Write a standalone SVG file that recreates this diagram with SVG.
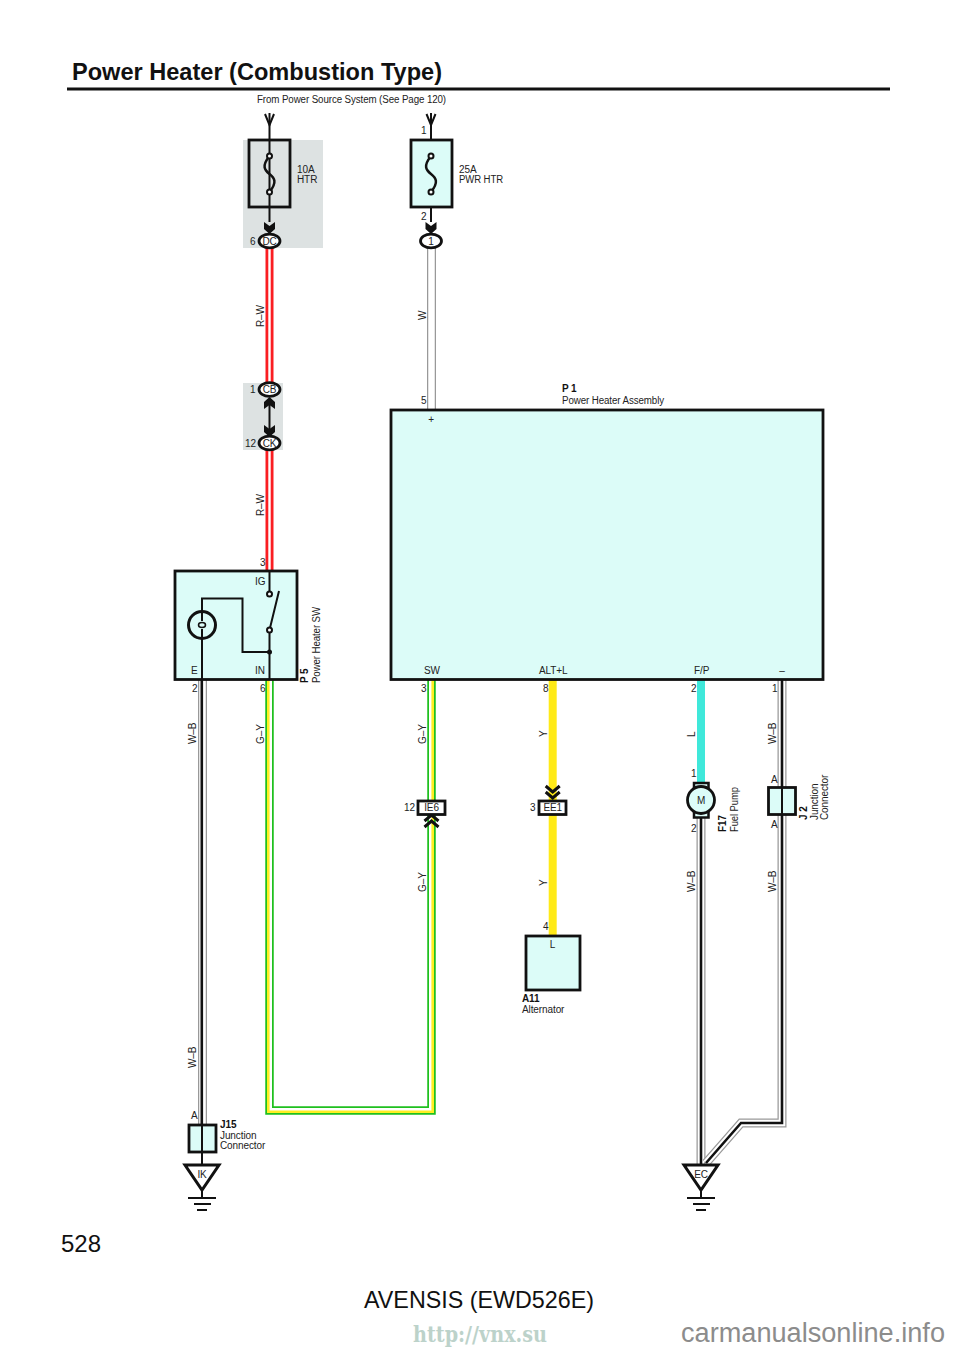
<svg xmlns="http://www.w3.org/2000/svg" width="960" height="1349" viewBox="0 0 960 1349">
<style>
text{font-family:"Liberation Sans",Arial,sans-serif;font-size:10px;fill:#222;letter-spacing:-0.1px}
.b{font-weight:bold;fill:#111}
.m{text-anchor:middle}
.s{fill:none;stroke:#111;stroke-width:2}
.box{fill:#dcfcf8;stroke:#111;stroke-width:2.800}
.nf{fill:none;stroke:#111;stroke-width:2.800}
.wb0{fill:none;stroke:#999;stroke-width:9}
.wb1{fill:none;stroke:#fff;stroke-width:6.500}
.wb2{fill:none;stroke:#111;stroke-width:2.600}
.r0{fill:none;stroke:#fa1e22;stroke-width:8}
.r1{fill:none;stroke:#fff;stroke-width:2.400}
.g0{fill:none;stroke:#1fc01f;stroke-width:8.500}
.g1{fill:none;stroke:#fff;stroke-width:5}
.g2{fill:none;stroke:#ffee22;stroke-width:2.600}
.y0{fill:none;stroke:#ffea17;stroke-width:8}
.l0{fill:none;stroke:#3fe8da;stroke-width:8}
.ov{fill:#fff;stroke:#111;stroke-width:2.800}
.dot{fill:#fff;stroke:#111;stroke-width:2}
</style>
<defs>
<path id="ah" d="M-5.500 -6 L0 -2 L5.500 -6 L5.500 1 L0 6 L-5.500 1 Z" fill="#111"/>
<path id="chev" d="M-7 -4 L0 2 L7 -4 M-7 2 L0 8 L7 2" fill="none" stroke="#111" stroke-width="3"/>
<path id="open" d="M-4.500 0 L0 11 L4.500 0" fill="none" stroke="#111" stroke-width="2"/>
<path id="fuse" d="M0 -18 C-8 -8 -5 -4 0 0 C5 4 8 8 0 18" fill="none" stroke="#111" stroke-width="2.500"/>
<g id="gnd"><path d="M-17 0 L17 0 L0 25 Z" fill="#fff" stroke="#111" stroke-width="3"/><path d="M0 25 V33 M-14 33 H14 M-8 39 H9 M-5 45 H5" fill="none" stroke="#111" stroke-width="2"/></g>
</defs>
<rect width="960" height="1349" fill="#fff"/>
<g id="header">
<text x="72" y="80" class="b" style="font-size:24px;letter-spacing:0" textLength="370" lengthAdjust="spacingAndGlyphs">Power Heater (Combustion Type)</text>
<path d="M67 89 H890" stroke="#111" stroke-width="3"/>
<text x="257" y="103" textLength="189" lengthAdjust="spacingAndGlyphs">From Power Source System (See Page 120)</text>
</g>
<g id="backgrounds">
<rect x="243" y="140" width="80" height="108" fill="#dde2e2"/>
<rect x="243" y="383" width="40" height="67" fill="#dde2e2"/>
</g>
<g id="connectors">
<path class="r0" d="M269.500 247 V383"/><path class="r1" d="M269.500 247 V383"/>
<path class="r0" d="M269.500 449 V572"/><path class="r1" d="M269.500 449 V572"/>
<path class="wb0" d="M431.500 247 V410"/><path class="wb1" d="M431.500 247 V410"/>
<path class="g0" d="M269.500 680 V1110.500 H431.500 V680"/><path class="g1" d="M269.500 680 V1110.500 H431.500 V680"/><path class="g2" d="M268.300 680 V1111.700 H432.700 V680"/>
<path class="y0" d="M552.700 680 V800 M552.700 815 V936"/>
<path class="l0" d="M701 680 V783"/>
<path class="wb0" d="M202.500 680 V1125"/><path class="wb1" d="M202.500 680 V1125"/><path class="wb2" d="M201.800 680 V1125"/>
<path class="wb0" d="M701 818 V1165"/><path class="wb1" d="M701 818 V1165"/><path class="wb2" d="M701 818 V1165"/>
<path class="wb0" d="M782 680 V1123 H741 L706 1163"/><path class="wb1" d="M782 680 V1123 H741 L706 1163"/><path class="wb2" d="M782 680 V1123 H741 L706 1163"/>
</g>
<g id="fuse-10a">
<path class="s" d="M269.500 113 V222"/><use href="#open" x="269.500" y="114"/>
<rect x="249" y="140" width="41" height="67" class="nf"/>
<use href="#fuse" x="269.500" y="174"/>
<circle cx="269.500" cy="156" r="2.500" class="dot"/><circle cx="269.500" cy="192" r="2.500" class="dot"/>
<text x="297" y="173">10A</text><text x="297" y="183">HTR</text>
<use href="#ah" x="269.500" y="228"/>
</g>
<g id="fuse-25a">
<path class="s" d="M431 113 V222"/><use href="#open" x="431" y="114"/>
<rect x="411" y="140" width="41" height="67" class="box"/>
<use href="#fuse" x="431" y="174"/>
<circle cx="431" cy="156" r="2.500" class="dot"/><circle cx="431" cy="192" r="2.500" class="dot"/>
<text x="459" y="173">25A</text><text x="459" y="183" textLength="44" lengthAdjust="spacingAndGlyphs">PWR HTR</text>
<text x="421" y="134">1</text><text x="421" y="220">2</text>
<use href="#ah" x="431" y="228"/>
</g>
<g id="conn-dc"><ellipse cx="269.500" cy="241" rx="10.500" ry="6.800" class="ov"/><text x="269.500" y="245" class="m">DC</text><text x="250" y="245">6</text></g>
<g id="conn-1"><ellipse cx="431" cy="241" rx="10.500" ry="6.800" class="ov"/><text x="431" y="245" class="m">1</text></g>
<g id="conn-cb-ck">
<path class="s" d="M269.500 400 V432"/>
<use href="#ah" transform="translate(269.500 403) rotate(180)"/>
<use href="#ah" x="269.500" y="431"/>
<ellipse cx="269.500" cy="389.500" rx="10.500" ry="6.800" class="ov"/><text x="269.500" y="393" class="m">CB</text><text x="250" y="393">1</text>
<ellipse cx="269.500" cy="443" rx="10.500" ry="6.800" class="ov"/><text x="269.500" y="447" class="m">CK</text><text x="245" y="447">12</text>
</g>
<g id="P5">
<rect x="175" y="571" width="122" height="108.500" class="box"/>
<path class="s" d="M269.500 571 V591 M269.500 630 V679 M279 591 L269.500 630 M269.500 652 H242.500 V598.500 H202 V621 M202 629 V680"/>
<circle cx="202" cy="625" r="13.500" fill="none" stroke="#111" stroke-width="3"/>
<ellipse cx="202" cy="625" rx="3.500" ry="2.500" fill="none" stroke="#111" stroke-width="1.500"/>
<circle cx="269.500" cy="594" r="2.500" class="dot"/><circle cx="269.500" cy="630" r="2.500" class="dot"/><circle cx="269.500" cy="652" r="2.500" fill="#111"/>
<text x="255" y="585">IG</text><text x="191" y="674">E</text><text x="255" y="674">IN</text>
<text x="260" y="566">3</text><text x="192" y="692">2</text><text x="260" y="692">6</text>
<text transform="translate(308 683) rotate(-90)" class="b">P 5</text>
<text transform="translate(320 683) rotate(-90)" textLength="76" lengthAdjust="spacingAndGlyphs">Power Heater SW</text>
</g>
<g id="P1">
<rect x="391" y="410" width="432" height="269.500" class="box"/>
<text x="562" y="392" class="b">P 1</text><text x="562" y="404" textLength="102" lengthAdjust="spacingAndGlyphs">Power Heater Assembly</text>
<text x="421" y="404">5</text><text x="431" y="423" class="m">+</text>
<text x="424" y="674">SW</text><text x="539" y="674">ALT+L</text><text x="694" y="674">F/P</text><text x="782" y="674" class="m">–</text>
<text x="421" y="692">3</text><text x="543" y="692">8</text><text x="691" y="692">2</text><text x="772" y="692">1</text>
</g>
<g id="IE6">
<use href="#chev" transform="translate(431.500 823) rotate(180)"/>
<rect x="418" y="801" width="27" height="13.500" fill="#fff" stroke="#111" stroke-width="2.800"/>
<text x="431.500" y="811" class="m">IE6</text><text x="404" y="811">12</text>
</g>
<g id="EE1">
<use href="#chev" x="552.700" y="790"/>
<rect x="539" y="801" width="27" height="13.500" fill="#fff" stroke="#111" stroke-width="2.800"/>
<text x="552.700" y="811" class="m">EE1</text><text x="530" y="811">3</text>
</g>
<g id="A11">
<rect x="526" y="936" width="54" height="54" class="box"/>
<text x="543" y="930">4</text><text x="552.500" y="948" class="m">L</text>
<text x="522" y="1002" class="b">A11</text><text x="522" y="1013">Alternator</text>
</g>
<g id="F17">
<rect x="694" y="783" width="14.500" height="34.500" fill="#dcfcf8" stroke="#111" stroke-width="2.500"/>
<circle cx="701" cy="800" r="13.500" class="box"/>
<text x="701" y="804" class="m">M</text>
<text x="691" y="777">1</text><text x="691" y="832">2</text>
<text transform="translate(726 832) rotate(-90)" class="b">F17</text>
<text transform="translate(738 832) rotate(-90)" textLength="45" lengthAdjust="spacingAndGlyphs">Fuel Pump</text>
</g>
<g id="J2">
<rect x="768.500" y="787.500" width="27" height="27" class="box"/>
<path class="s" d="M782 788 V814"/>
<text x="771" y="783">A</text><text x="771" y="828">A</text>
<text transform="translate(807 820) rotate(-90)" class="b">J 2</text>
<text transform="translate(818 820) rotate(-90)">Junction</text>
<text transform="translate(828 820) rotate(-90)">Connector</text>
</g>
<g id="J15">
<rect x="189" y="1125" width="27" height="27" class="box"/>
<path class="s" d="M202 1125 V1165"/>
<text x="191" y="1119">A</text>
<text x="220" y="1128" class="b">J15</text><text x="220" y="1139">Junction</text><text x="220" y="1149">Connector</text>
</g>
<g id="IK"><use href="#gnd" x="202" y="1165"/><text x="202" y="1178" class="m">IK</text></g>
<g id="EC"><use href="#gnd" x="701" y="1165"/><text x="701" y="1178" class="m">EC</text></g>
<g id="wire-labels">
<text transform="translate(264 327) rotate(-90)">R–W</text>
<text transform="translate(264 516) rotate(-90)">R–W</text>
<text transform="translate(426 320) rotate(-90)">W</text>
<text transform="translate(196 744) rotate(-90)">W–B</text>
<text transform="translate(264 744) rotate(-90)">G–Y</text>
<text transform="translate(426 744) rotate(-90)">G–Y</text>
<text transform="translate(547 737) rotate(-90)">Y</text>
<text transform="translate(695 737) rotate(-90)">L</text>
<text transform="translate(776 744) rotate(-90)">W–B</text>
<text transform="translate(426 892) rotate(-90)">G–Y</text>
<text transform="translate(547 886) rotate(-90)">Y</text>
<text transform="translate(695 892) rotate(-90)">W–B</text>
<text transform="translate(776 892) rotate(-90)">W–B</text>
<text transform="translate(196 1068) rotate(-90)">W–B</text>
</g>
<g id="footer">
<text x="61" y="1252" style="font-size:24px;fill:#111;letter-spacing:0">528</text>
<text x="364" y="1308" style="font-size:24px;fill:#111;letter-spacing:0" textLength="230" lengthAdjust="spacingAndGlyphs">AVENSIS (EWD526E)</text>
<text x="413" y="1342" style="font-family:'DejaVu Serif',serif;font-size:22px;font-weight:bold;fill:#bcd2ca;letter-spacing:0" textLength="134" lengthAdjust="spacingAndGlyphs">http://vnx.su</text>
<text x="681" y="1342" style="font-size:27px;fill:#8c8c8c;letter-spacing:0" textLength="264" lengthAdjust="spacingAndGlyphs">carmanualsonline.info</text>
</g>
</svg>
